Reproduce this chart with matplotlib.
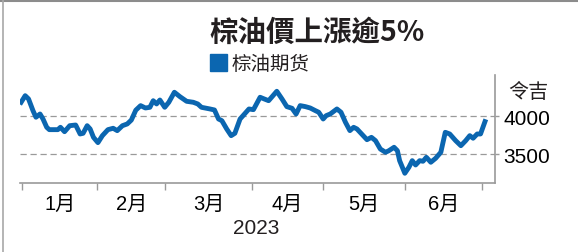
import matplotlib
matplotlib.use("Agg")
import matplotlib.pyplot as plt
from matplotlib.lines import Line2D
from matplotlib.patches import Rectangle

# trading-session position (approx.) and price
days = [0, 1.1, 2, 3.2, 4, 5.1, 5.9, 6.9, 7.6, 9.9, 10.6, 11.7, 13.1, 14.7,
        15.9, 16.7, 17.8, 18.6, 19.5, 20.7, 21.9, 23.4, 24.8, 25.9, 27.3,
        28.6, 29.7, 30.9, 32.2, 33.5, 34.7, 35.6, 36.5, 37.4, 38.7, 39.8,
        41.3, 42.8, 44.6, 46.4, 47.6, 48.6, 50.9, 52.1, 53.2, 54.1, 55.4,
        56.6, 57.6, 59.0, 60.2, 61.4, 62.6, 64.4, 65.5, 66.7, 68.9, 70.3,
        71.6, 73.0, 74.1, 75.2, 76.6, 77.9, 79.3, 80.2, 81.4, 82.2, 83.3,
        85.1, 86.2, 87.4, 88.6, 89.6, 90.5, 91.9, 93.2, 94.4, 95.5, 96.8,
        98.2, 99.1, 100.5, 101.4, 102, 103.4, 104.5, 105.4, 106.3, 107.4,
        108.3, 109.2, 110.4, 111.7, 113.1, 114.3, 115.5, 117.1, 118.5,
        119.8, 120.9, 121.8, 122.9, 123.8, 125]
price = [4184, 4271, 4228, 4074, 3987, 4030, 3964, 3855, 3824, 3824, 3855,
         3797, 3876, 3885, 3767, 3776, 3876, 3833, 3723, 3653, 3745, 3824,
         3842, 3811, 3876, 3899, 3950, 4080, 4140, 4109, 4118, 4205, 4162,
         4214, 4118, 4184, 4316, 4258, 4197, 4184, 4162, 4118, 4096, 4083,
         3964, 3942, 3833, 3745, 3776, 3964, 4030, 4096, 4087, 4250, 4228,
         4205, 4329, 4228, 4127, 4105, 4030, 4140, 4127, 4109, 4074, 4053,
         3964, 4008, 4030, 4096, 4053, 3921, 3811, 3855, 3833, 3760, 3692,
         3723, 3679, 3569, 3526, 3547, 3592, 3547, 3416, 3250, 3329, 3416,
         3359, 3416, 3408, 3460, 3395, 3447, 3526, 3789, 3767, 3679, 3613,
         3679, 3745, 3711, 3767, 3767, 3930]

month_edges = [0.3, 20.5, 38.9, 62.2, 81.4, 103.5, 124.1]
month_labels = ["1月", "2月", "3月", "4月", "5月", "6月"]
yticks = [3500, 4000]

blue = "#0b66b0"
grey = "#9a9a9a"
cjk = ["Liberation Sans", "Noto Sans CJK TC"]

fig = plt.figure(figsize=(5.78, 2.53), dpi=100)
ax = fig.add_axes([20 / 578, 1 - 184 / 253, 475 / 578, 108 / 253])

ax.plot(days, price, color=blue, lw=3.5, solid_joinstyle="round")
ax.set_xlim(-0.3, 127.7)
ax.set_ylim(3122, 4543)

for s in ["top", "left"]:
    ax.spines[s].set_visible(False)
for s in ["right", "bottom"]:
    ax.spines[s].set_color(grey)
    ax.spines[s].set_linewidth(1.2)

for v in yticks:
    ax.axhline(v, color=grey, lw=0.9, ls=(0, (5, 3)), zorder=0)

ax.yaxis.tick_right()
ax.set_yticks(yticks)
ax.set_yticklabels([str(v) for v in yticks], family="Liberation Sans", fontsize=15)
ax.tick_params(axis="y", length=3, width=1, color=grey, pad=3)

centers = [(a + b) / 2 for a, b in zip(month_edges[:-1], month_edges[1:])]
ax.set_xticks(month_edges)
ax.set_xticklabels([])
ax.set_xticks(centers, minor=True)
ax.set_xticklabels(month_labels, minor=True, family=cjk, fontsize=14.5)
ax.tick_params(axis="x", which="major", length=5, width=1, color=grey, direction="out")
ax.tick_params(axis="x", which="minor", length=0, pad=8)

fig.text(317 / 578, 1 - 33 / 253, "棕油價上漲逾5%", family=["Noto Sans CJK TC"],
         fontweight="bold", fontsize=20.5, ha="center", va="center", color="#231f20")
fig.patches.append(Rectangle((210 / 578, 1 - 72 / 253), 17 / 578, 17 / 253,
                             transform=fig.transFigure, color=blue))
fig.text(232 / 578, 1 - 64 / 253, "棕油期货", family=["Noto Sans CJK SC"],
         fontsize=14, ha="left", va="center", color="#231f20")
fig.text(528 / 578, 1 - 93 / 253, "令吉", family=["Noto Sans CJK TC"],
         fontsize=14.5, ha="center", va="center", color="#231f20")
fig.text(256 / 578, 1 - 229 / 253, "2023", family="Liberation Sans",
         fontsize=15, ha="center", va="center", color="#231f20")

# thin frame on the top and left edge of the clipping
fig.lines.append(Line2D([0, 1], [1 - 1.5 / 253] * 2, transform=fig.transFigure,
                        color="#8c8c8c", lw=1.5))
fig.lines.append(Line2D([3 / 578] * 2, [0, 1], transform=fig.transFigure,
                        color="#a8a8a8", lw=1.2))

fig.savefig("out.png", dpi=100, facecolor="white")
